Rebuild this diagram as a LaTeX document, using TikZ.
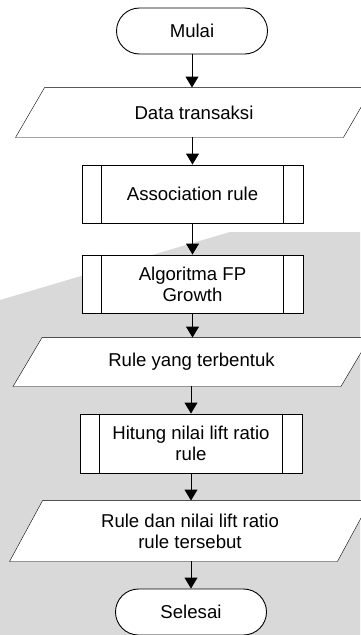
\documentclass[tikz,border=0pt]{standalone}
\usepackage{fontspec}
\setmainfont{Liberation Sans}
\usetikzlibrary{arrows.meta,backgrounds}
\definecolor{bggray}{gray}{0.85}
% parallelogram drawn round a named node: #1 node, #2 slant
\newcommand\ioshape[2]{%
  \draw[fill=white] ([xshift=#2/2]#1.north west) -- ([xshift=#2/2]#1.north east)
    -- ([xshift=-#2/2]#1.south east) -- ([xshift=-#2/2]#1.south west) -- cycle;}
% the two inner bars of a predefined-process box
\newcommand\procbars[1]{%
  \draw ([xshift=20pt]#1.north west) -- ([xshift=20pt]#1.south west);
  \draw ([xshift=-20pt]#1.north east) -- ([xshift=-20pt]#1.south east);}
\begin{document}
\begin{tikzpicture}[x=1pt,y=-1pt,line width=0.9pt,
  every node/.style={font=\fontsize{18.6}{21}\selectfont, align=center, inner sep=0pt},
  terminal/.style={draw, fill=white, rounded corners=23pt, minimum width=151pt, minimum height=46pt},
  iobox/.style={minimum width=327pt, minimum height=#1},
  iobox/.default=49pt,
  procbox/.style={draw, fill=white, minimum width=221pt, minimum height=58pt},
  flow/.style={-{Triangle[width=13pt,length=11pt]}}]
\clip (0,0) rectangle (360,635);

% flow nodes
\node[terminal] (mulai) at (192,31) {Mulai};
\node[iobox] (data) at (194,112.5) {Data transaksi};
\node[procbox] (assoc) at (192.5,194) {Association rule};
\node[procbox] (fp) at (192.5,284) {Algoritma FP\\Growth};
\node[iobox=48pt] (rule) at (191.5,362) {Rule yang terbentuk};
\node[procbox, minimum width=222pt, minimum height=59pt] (hitung) at (191,443.5) {Hitung nilai lift ratio\\rule};
\node[iobox=60pt] (hasil) at (190,531) {Rule dan nilai lift ratio\\rule tersebut};
\node[terminal] (selesai) at (191,612) {Selesai};

\procbars{assoc}
\procbars{fp}
\procbars{hitung}

\begin{scope}[on background layer]
  \fill[white] (0,0) rectangle (360,635);
  \fill[bggray] (0,300) -- (230,232) -- (360,232) -- (360,635) -- (0,635) -- cycle;
  \ioshape{data}{29}
  \ioshape{rule}{29}
  \ioshape{hasil}{33}
\end{scope}

% connectors
\draw[flow] (mulai.south) -- (mulai.south |- data.north);
\draw[flow] (assoc.north |- data.south) -- (assoc.north);
\draw[flow] (assoc.south) -- (fp.north);
\draw[flow] (fp.south) -- (fp.south |- rule.north);
\draw[flow] (hitung.north |- rule.south) -- (hitung.north);
\draw[flow] (hitung.south) -- (hitung.south |- hasil.north);
\draw[flow] (selesai.north |- hasil.south) -- (selesai.north);
\end{tikzpicture}
\end{document}
